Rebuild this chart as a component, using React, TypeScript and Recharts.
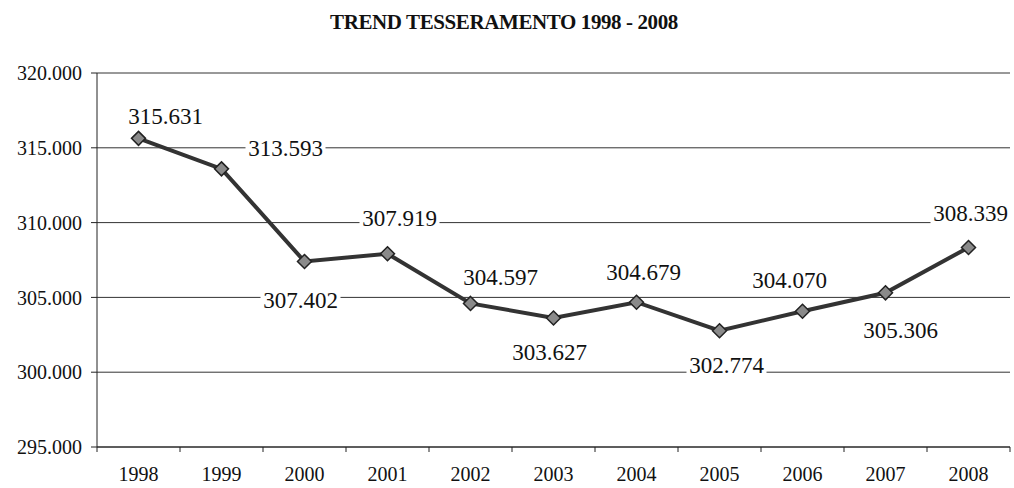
import React from 'react';
import { LineChart, Line, XAxis, YAxis, CartesianGrid } from 'recharts';

const YEARS = ['1998', '1999', '2000', '2001', '2002', '2003', '2004', '2005', '2006', '2007', '2008'];
const MEMBERS = [315631, 313593, 307402, 307919, 304597, 303627, 304679, 302774, 304070, 305306, 308339];
const Y_TICKS = [295000, 300000, 305000, 310000, 315000, 320000];

// where each value label sits relative to its point (dx, dy of label centre)
const LABEL_OFFSETS: [number, number][] = [
  [27, -22], [64, -21], [-4, 38], [12, -36], [30, -26], [-4, 34],
  [7, -30], [7, 34], [-13, -31], [15, 37], [2, -34],
];

const data = YEARS.map((year, i) => ({ year, value: MEMBERS[i] }));

const W = 1014;
const H = 488;
const LEFT = 97;
const RIGHT = 4;
const HALF_BAND = (W - LEFT - RIGHT) / YEARS.length / 2;
const FONT = '"Liberation Serif", "Times New Roman", serif';

const fmt = (v: number) => String(v).replace(/\B(?=(\d{3})+(?!\d))/g, '.');

const XTick = (props: any) => {
  const { x, y, payload, index } = props;
  return (
    <g>
      <line x1={x - HALF_BAND} x2={x - HALF_BAND} y1={y} y2={y + 5} stroke="#222" />
      {index === YEARS.length - 1 && (
        <line x1={x + HALF_BAND} x2={x + HALF_BAND} y1={y} y2={y + 5} stroke="#222" />
      )}
      <text x={x} y={y + 34} textAnchor="middle" style={{ fontFamily: FONT }} fontSize={20} fill="#111">
        {payload.value}
      </text>
    </g>
  );
};

const Dot = (props: any) => {
  const { cx, cy, index, value } = props;
  if (cx == null || cy == null) return null;
  const r = 7;
  const [dx, dy] = LABEL_OFFSETS[index] || [0, -30];
  const lx = cx + dx;
  const ly = cy + dy;
  return (
    <g key={`d-${index}`}>
      <polygon
        points={`${cx},${cy - r} ${cx + r},${cy} ${cx},${cy + r} ${cx - r},${cy}`}
        fill="#8a8a8a"
        stroke="#222"
        strokeWidth={1.5}
      />
      <rect x={lx - 40} y={ly - 12} width={80} height={24} fill="#fff" />
      <text x={lx} y={ly} dy="0.35em" textAnchor="middle" style={{ fontFamily: FONT }} fontSize={23} fill="#111">
        {fmt(Array.isArray(value) ? value[1] : value)}
      </text>
    </g>
  );
};

export default function App() {
  return (
    <div style={{ position: 'absolute', left: 0, top: 0, width: W, height: H, background: '#fff' }}>
      <div
        style={{
          position: 'absolute', left: 0, top: 10, width: W - 6, textAlign: 'center',
          fontFamily: FONT, fontWeight: 'bold', fontSize: 21, color: '#111', letterSpacing: -0.4,
        }}
      >
        TREND TESSERAMENTO 1998 - 2008
      </div>
      <LineChart width={W} height={H} data={data} margin={{ top: 73, right: RIGHT, bottom: 0, left: 0 }}>
        <CartesianGrid vertical={false} stroke="#333" strokeWidth={1} />
        <XAxis
          dataKey="year"
          scale="band"
          height={41}
          axisLine={{ stroke: '#222' }}
          tickLine={false}
          tickSize={0}
          tickMargin={0}
          tick={<XTick />}
          interval={0}
        />
        <YAxis
          width={LEFT}
          domain={[295000, 320000]}
          ticks={Y_TICKS}
          tickFormatter={fmt}
          axisLine={{ stroke: '#222' }}
          tickLine={{ stroke: '#222' }}
          tickSize={6}
          tickMargin={9}
          tick={{ style: { fontFamily: FONT }, fontSize: 20, fill: '#111' }}
          allowDataOverflow
        />
        <Line
          dataKey="value"
          stroke="#333"
          strokeWidth={4}
          dot={Dot}
          activeDot={false}
          isAnimationActive={false}
        />
      </LineChart>
    </div>
  );
}
